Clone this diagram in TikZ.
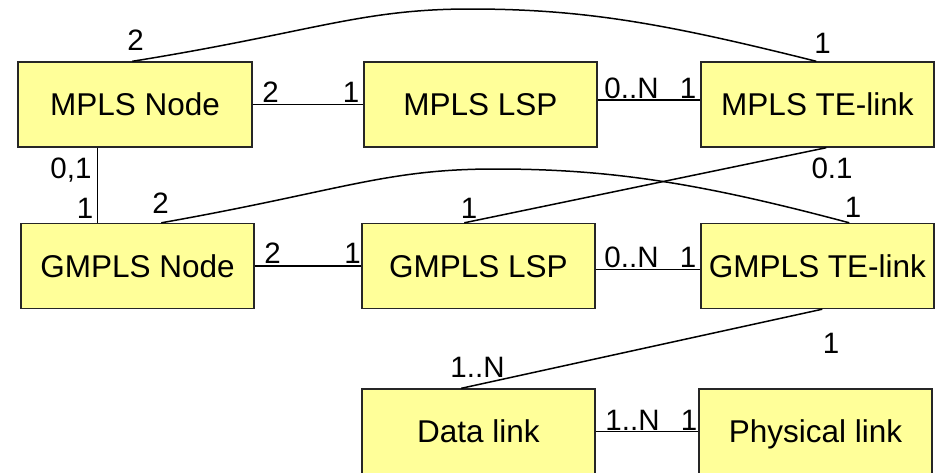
\documentclass[tikz,border=0pt]{standalone}
\usepackage{fontspec}
\setmainfont{Liberation Sans}
\usetikzlibrary{calc}
\definecolor{boxfill}{HTML}{FFFF99}
\definecolor{boxline}{HTML}{262626}
\begin{document}
\begin{tikzpicture}[x=1pt,y=-1pt,
  entity/.style={draw=boxline, line width=1.4pt, fill=boxfill,
    minimum width=233pt, minimum height=85pt, inner sep=0pt,
    text height=22pt, text depth=0pt,
    font=\fontsize{31.5}{36}\selectfont},
  mult/.style={anchor=base, inner sep=0pt, font=\fontsize{29.5}{34}\selectfont},
  assoc/.style={draw=black, line width=1.5pt}]
\useasboundingbox (0,0) rectangle (938,472);
\clip (0,0) rectangle (938,472);

% entities
\node[entity, minimum width=234pt] (mn) at (135,104.5) {MPLS Node};
\node[entity] (ml) at (480.5,104.5) {MPLS LSP};
\node[entity] (mt) at (817.5,104.5) {MPLS TE-link};
\node[entity] (gn) at (137.5,266) {GMPLS Node};
\node[entity] (gl) at (478.5,266) {GMPLS LSP};
\node[entity] (gt) at (817.5,266) {GMPLS TE-link};
\node[entity] (dl) at (478.5,431.5) {Data link};
\node[entity] (pl) at (815.5,431.5) {Physical link};

% attachment points and crests of the two arcs
\coordinate (mnTop) at ($(mn.north west)+(115,0)$);
\coordinate (mtTop) at ($(mt.north west)+(116,0)$);
\coordinate (crestA) at (470,9);
\coordinate (gnTop) at ($(gn.north west)+(141,0)$);
\coordinate (gtTop) at ($(gt.north west)+(149,0)$);
\coordinate (crestB) at (495,169);

% associations
\draw[assoc] (mnTop) .. controls +(180,-29) and +(-110,0) .. (crestA)
  .. controls +(115,0) and +(-150,-37.5) .. (mtTop);
\draw[assoc] (gnTop) .. controls +(180,-32) and +(-110,0) .. (crestB)
  .. controls +(115,0) and +(-150,-40) .. (gtTop);
\draw[assoc] (mn.east) -- (ml.west);
\draw[assoc] ($(ml.east)+(0,-4.5)$) -- ($(mt.west)+(0,-4.5)$);
\draw[assoc] ($(mn.south west)+(80,0)$) -- ($(gn.north west)+(77,0)$);
\draw[assoc] ($(mt.south west)+(126,0)$) -- ($(gl.north west)+(103,0)$);
\draw[assoc] (gn.east) -- (gl.west);
\draw[assoc] ($(gl.east)+(0,3.5)$) -- ($(gt.west)+(0,3.5)$);
\draw[assoc] ($(gt.south west)+(122,0)$) -- ($(dl.north west)+(100,0)$);
\draw[assoc] (dl.east) -- (pl.west);

% multiplicities
\node[mult] (m1) at (135.5,50) {2};
\node[mult] (m2) at (822.5,53) {1};
\node[mult] (m3) at (270.5,102) {2};
\node[mult] (m4) at (351,102) {1};
\node[mult] (m5) at (631.5,98) {0..N};
\node[mult] (m6) at (688,98) {1};
\node[mult] (m7) at (71,178) {0,1};
\node[mult] (m8) at (85,218) {1};
\node[mult] (m9) at (160.5,213) {2};
\node[mult] (m10) at (832,178) {0.1};
\node[mult] (m11) at (469,218) {1};
\node[mult] (m12) at (853,217) {1};
\node[mult] (m13) at (272.5,263) {2};
\node[mult] (m14) at (352.5,263) {1};
\node[mult] (m15) at (631.5,267) {0..N};
\node[mult] (m16) at (688,267) {1};
\node[mult] (m17) at (831,353) {1};
\node[mult] (m18) at (477.5,377) {1..N};
\node[mult] (m19) at (632.5,430) {1..N};
\node[mult] (m20) at (689,430) {1};
\end{tikzpicture}
\end{document}
